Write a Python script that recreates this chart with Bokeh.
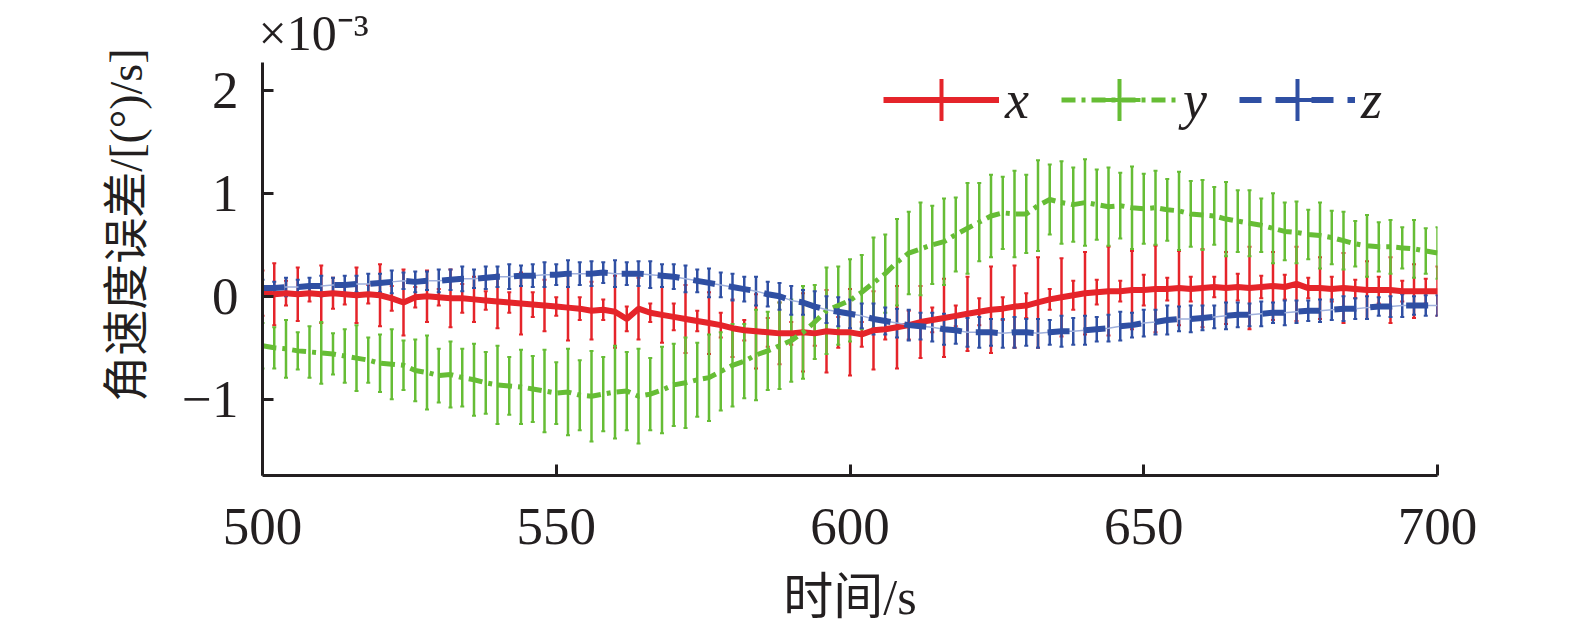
import numpy as np
import pandas as pd
from bokeh.plotting import figure
from bokeh.models import (ColumnDataSource, Whisker, TeeHead, Legend, LegendItem,
                          FixedTicker, CustomJSTickFormatter, Title, Range1d)
from bokeh.embed import file_html
from bokeh.resources import INLINE

# ---------------- data (values in units of 1e-3 (°)/s) ----------------
t = np.arange(500, 701, 2)

x_val = [
    0.03, 0.02, 0.03, 0.02, 0.03, 0.02, 0.03, 0.02, 0.01, 0.02,
    0.01, -0.02, -0.06, -0.01, 0.00, -0.01, -0.02, -0.02, -0.03, -0.04,
    -0.05, -0.06, -0.07, -0.08, -0.09, -0.10, -0.11, -0.12, -0.14, -0.13,
    -0.15, -0.22, -0.12, -0.16, -0.18, -0.20, -0.22, -0.24, -0.26, -0.28,
    -0.31, -0.33, -0.34, -0.35, -0.36, -0.36, -0.35, -0.36, -0.34, -0.35,
    -0.35, -0.37, -0.33, -0.32, -0.30, -0.28, -0.25, -0.23, -0.21, -0.19,
    -0.17, -0.15, -0.13, -0.12, -0.10, -0.09, -0.06, -0.03, -0.01, 0.01,
    0.03, 0.04, 0.05, 0.05, 0.06, 0.06, 0.07, 0.07, 0.08, 0.07,
    0.08, 0.09, 0.08, 0.09, 0.08, 0.09, 0.10, 0.09, 0.12, 0.08,
    0.08, 0.07, 0.08, 0.07, 0.06, 0.06, 0.06, 0.05, 0.05, 0.05,
    0.05]
x_err = [
    0.22, 0.30, 0.12, 0.26, 0.08, 0.28, 0.15, 0.10, 0.27, 0.09,
    0.30, 0.12, 0.32, 0.10, 0.25, 0.08, 0.28, 0.14, 0.22, 0.09,
    0.26, 0.10, 0.30, 0.12, 0.25, 0.09, 0.32, 0.11, 0.28, 0.10,
    0.35, 0.12, 0.30, 0.09, 0.27, 0.13, 0.33, 0.10, 0.30, 0.12,
    0.28, 0.10, 0.36, 0.14, 0.30, 0.11, 0.38, 0.12, 0.40, 0.15,
    0.42, 0.12, 0.38, 0.10, 0.40, 0.14, 0.35, 0.12, 0.38, 0.10,
    0.36, 0.13, 0.42, 0.11, 0.40, 0.12, 0.44, 0.10, 0.38, 0.14,
    0.40, 0.12, 0.43, 0.10, 0.38, 0.15, 0.42, 0.11, 0.36, 0.12,
    0.38, 0.10, 0.35, 0.13, 0.40, 0.11, 0.33, 0.12, 0.36, 0.10,
    0.30, 0.12, 0.34, 0.09, 0.28, 0.13, 0.32, 0.10, 0.26, 0.12,
    0.24]

y_val = [
    -0.48, -0.50, -0.51, -0.53, -0.54, -0.55, -0.56, -0.58, -0.60, -0.62,
    -0.65, -0.66, -0.67, -0.72, -0.74, -0.77, -0.76, -0.79, -0.81, -0.84,
    -0.86, -0.87, -0.88, -0.90, -0.92, -0.94, -0.93, -0.96, -0.97, -0.95,
    -0.93, -0.92, -0.97, -0.95, -0.91, -0.86, -0.84, -0.81, -0.79, -0.73,
    -0.67, -0.63, -0.57, -0.53, -0.48, -0.43, -0.35, -0.25, -0.14, -0.09,
    -0.04, 0.04, 0.13, 0.22, 0.33, 0.42, 0.46, 0.50, 0.53, 0.60,
    0.66, 0.72, 0.78, 0.81, 0.80, 0.80, 0.88, 0.94, 0.91, 0.89,
    0.91, 0.89, 0.87, 0.88, 0.86, 0.85, 0.86, 0.84, 0.83, 0.80,
    0.79, 0.78, 0.75, 0.73, 0.71, 0.69, 0.66, 0.63, 0.62, 0.60,
    0.59, 0.57, 0.54, 0.51, 0.49, 0.48, 0.48, 0.47, 0.46, 0.44,
    0.42]
y_err = [
    0.22, 0.20, 0.28, 0.18, 0.25, 0.30, 0.20, 0.26, 0.32, 0.22,
    0.28, 0.34, 0.24, 0.30, 0.36, 0.26, 0.32, 0.28, 0.35, 0.30,
    0.38, 0.28, 0.36, 0.32, 0.40, 0.30, 0.42, 0.34, 0.44, 0.36,
    0.45, 0.38, 0.46, 0.35, 0.42, 0.40, 0.44, 0.36, 0.42, 0.38,
    0.40, 0.36, 0.44, 0.38, 0.42, 0.40, 0.45, 0.36, 0.42, 0.38,
    0.40, 0.36, 0.44, 0.38, 0.42, 0.40, 0.45, 0.38, 0.42, 0.36,
    0.44, 0.38, 0.40, 0.35, 0.42, 0.38, 0.44, 0.34, 0.40, 0.36,
    0.42, 0.34, 0.38, 0.32, 0.40, 0.34, 0.36, 0.30, 0.38, 0.32,
    0.34, 0.28, 0.36, 0.30, 0.32, 0.26, 0.34, 0.28, 0.30, 0.24,
    0.32, 0.26, 0.28, 0.22, 0.30, 0.24, 0.26, 0.20, 0.28, 0.22,
    0.25]

z_val = [
    0.08, 0.08, 0.09, 0.09, 0.10, 0.10, 0.11, 0.11, 0.12, 0.12,
    0.13, 0.14, 0.15, 0.14, 0.15, 0.15, 0.16, 0.17, 0.17, 0.18,
    0.19, 0.19, 0.20, 0.20, 0.21, 0.21, 0.22, 0.22, 0.22, 0.23,
    0.22, 0.22, 0.22, 0.21, 0.20, 0.19, 0.17, 0.15, 0.13, 0.11,
    0.09, 0.07, 0.05, 0.02, 0.00, -0.04, -0.06, -0.10, -0.13, -0.15,
    -0.17, -0.19, -0.22, -0.24, -0.26, -0.28, -0.29, -0.30, -0.32, -0.33,
    -0.35, -0.35, -0.35, -0.36, -0.35, -0.35, -0.36, -0.35, -0.34, -0.34,
    -0.33, -0.32, -0.31, -0.29, -0.28, -0.26, -0.25, -0.23, -0.22, -0.22,
    -0.21, -0.20, -0.19, -0.18, -0.18, -0.17, -0.16, -0.16, -0.15, -0.14,
    -0.14, -0.13, -0.12, -0.12, -0.11, -0.10, -0.10, -0.09, -0.09, -0.09,
    -0.09]
z_err = [
    0.08, 0.06, 0.09, 0.07, 0.08, 0.10, 0.07, 0.09, 0.08, 0.10,
    0.09, 0.11, 0.08, 0.10, 0.09, 0.11, 0.10, 0.12, 0.09, 0.11,
    0.10, 0.12, 0.10, 0.11, 0.12, 0.10, 0.13, 0.11, 0.12, 0.10,
    0.13, 0.11, 0.12, 0.13, 0.11, 0.12, 0.13, 0.11, 0.14, 0.12,
    0.13, 0.12, 0.14, 0.12, 0.13, 0.14, 0.12, 0.15, 0.13, 0.14,
    0.14, 0.12, 0.15, 0.13, 0.14, 0.15, 0.13, 0.14, 0.15, 0.13,
    0.14, 0.15, 0.13, 0.14, 0.15, 0.13, 0.14, 0.12, 0.15, 0.13,
    0.14, 0.12, 0.13, 0.14, 0.12, 0.13, 0.12, 0.14, 0.12, 0.13,
    0.12, 0.11, 0.13, 0.12, 0.11, 0.12, 0.10, 0.12, 0.11, 0.10,
    0.11, 0.10, 0.12, 0.10, 0.11, 0.09, 0.10, 0.11, 0.09, 0.10,
    0.10]

x_ticks = [500, 550, 600, 650, 700]
y_ticks = [-1, 0, 1, 2]
series_names = ["x", "y", "z"]

RED = "#e5242a"
GREEN = "#66bd35"
BLUE = "#2f4fa3"
BLUE_LIGHT = "#9fb0dc"
INK = "#231f20"
SERIF = "'Liberation Serif', 'Noto Sans CJK SC'"

p = figure(frame_width=1175, frame_height=413,
           min_border_left=262, min_border_right=122,
           min_border_top=62, min_border_bottom=145,
           x_range=Range1d(500, 700), y_range=Range1d(-1.74, 2.27),
           output_backend="svg", toolbar_location=None)
p.outline_line_color = None
p.xgrid.grid_line_color = None
p.ygrid.grid_line_color = None
p.background_fill_color = "white"
p.border_fill_color = "white"


def make_src(v, e):
    df = pd.DataFrame({"t": t, "v": v, "e": e})
    df["lo"] = df["v"] - df["e"]
    df["hi"] = df["v"] + df["e"]
    return ColumnDataSource(df)


sx = make_src(x_val, x_err)
sy = make_src(y_val, y_err)
sz = make_src(z_val, z_err)

for src, col in [(sx, RED), (sy, GREEN), (sz, BLUE)]:
    w = Whisker(source=src, base="t", lower="lo", upper="hi",
                line_color=col, line_width=2.5,
                upper_head=TeeHead(size=4, line_color=col, line_width=2),
                lower_head=TeeHead(size=4, line_color=col, line_width=2))
    p.add_layout(w)

r_x = p.line("t", "v", source=sx, line_color=RED, line_width=6)
r_y = p.line("t", "v", source=sy, line_color=GREEN, line_width=5,
             line_dash="14 6 4 6")
p.line("t", "v", source=sz, line_color=BLUE_LIGHT, line_width=1.5)
r_z = p.line("t", "v", source=sz, line_color=BLUE, line_width=6,
             line_dash="22 14")

# legend error-bar symbols (no visible points in the plot)
m_x = p.scatter(x=[np.nan], y=[np.nan], marker="cross", line_color=RED, line_width=4)
m_y = p.scatter(x=[np.nan], y=[np.nan], marker="cross", line_color=GREEN, line_width=4)
m_z = p.scatter(x=[np.nan], y=[np.nan], marker="cross", line_color=BLUE, line_width=4)

legend = Legend(items=[
    LegendItem(label=series_names[0], renderers=[r_x, m_x]),
    LegendItem(label=series_names[1], renderers=[r_y, m_y]),
    LegendItem(label=series_names[2], renderers=[r_z, m_z]),
], orientation="horizontal", location=(621, 323),
    glyph_width=116, glyph_height=105, label_height=105,
    label_standoff=6, spacing=32, padding=0, margin=0,
    border_line_alpha=0, background_fill_alpha=0,
    label_text_font="Liberation Serif", label_text_font_style="italic",
    label_text_font_size="54px", label_text_color=INK)
p.add_layout(legend, "center")

# axes
for ax in (p.xaxis[0], p.yaxis[0]):
    ax.axis_line_color = INK
    ax.axis_line_width = 3
    ax.major_tick_line_color = INK
    ax.major_tick_line_width = 3
    ax.major_tick_in = 11
    ax.major_tick_out = 0
    ax.minor_tick_line_color = None
    ax.major_label_text_font = "Liberation Serif"
    ax.major_label_text_font_size = "53px"
    ax.major_label_text_color = INK

p.xaxis.ticker = FixedTicker(ticks=x_ticks)
p.yaxis.ticker = FixedTicker(ticks=y_ticks)
p.yaxis.formatter = CustomJSTickFormatter(
    code="return tick < 0 ? '\u2212' + Math.abs(tick) : String(tick);")
p.xaxis.major_label_standoff = 33
p.yaxis.major_label_standoff = 24

p.xaxis.axis_label = "时间/s"
p.xaxis.axis_label_text_font = SERIF
p.xaxis.axis_label_text_font_size = "50px"
p.xaxis.axis_label_text_font_style = "normal"
p.xaxis.axis_label_text_color = INK
p.xaxis.axis_label_standoff = 22

ylab = Title(text="角速度误差/[(°)/s]", align="right", offset=-14,
             standoff=56, text_font=SERIF, text_font_size="46px",
             text_font_style="normal", text_color=INK)
p.add_layout(ylab, "left")

scale = Title(text="×10⁻³", align="left", offset=-4, standoff=4,
              text_font="Liberation Serif", text_font_size="50px",
              text_font_style="normal", text_color=INK)
p.add_layout(scale, "above")

open("out.html", "w").write(file_html(p, INLINE))
